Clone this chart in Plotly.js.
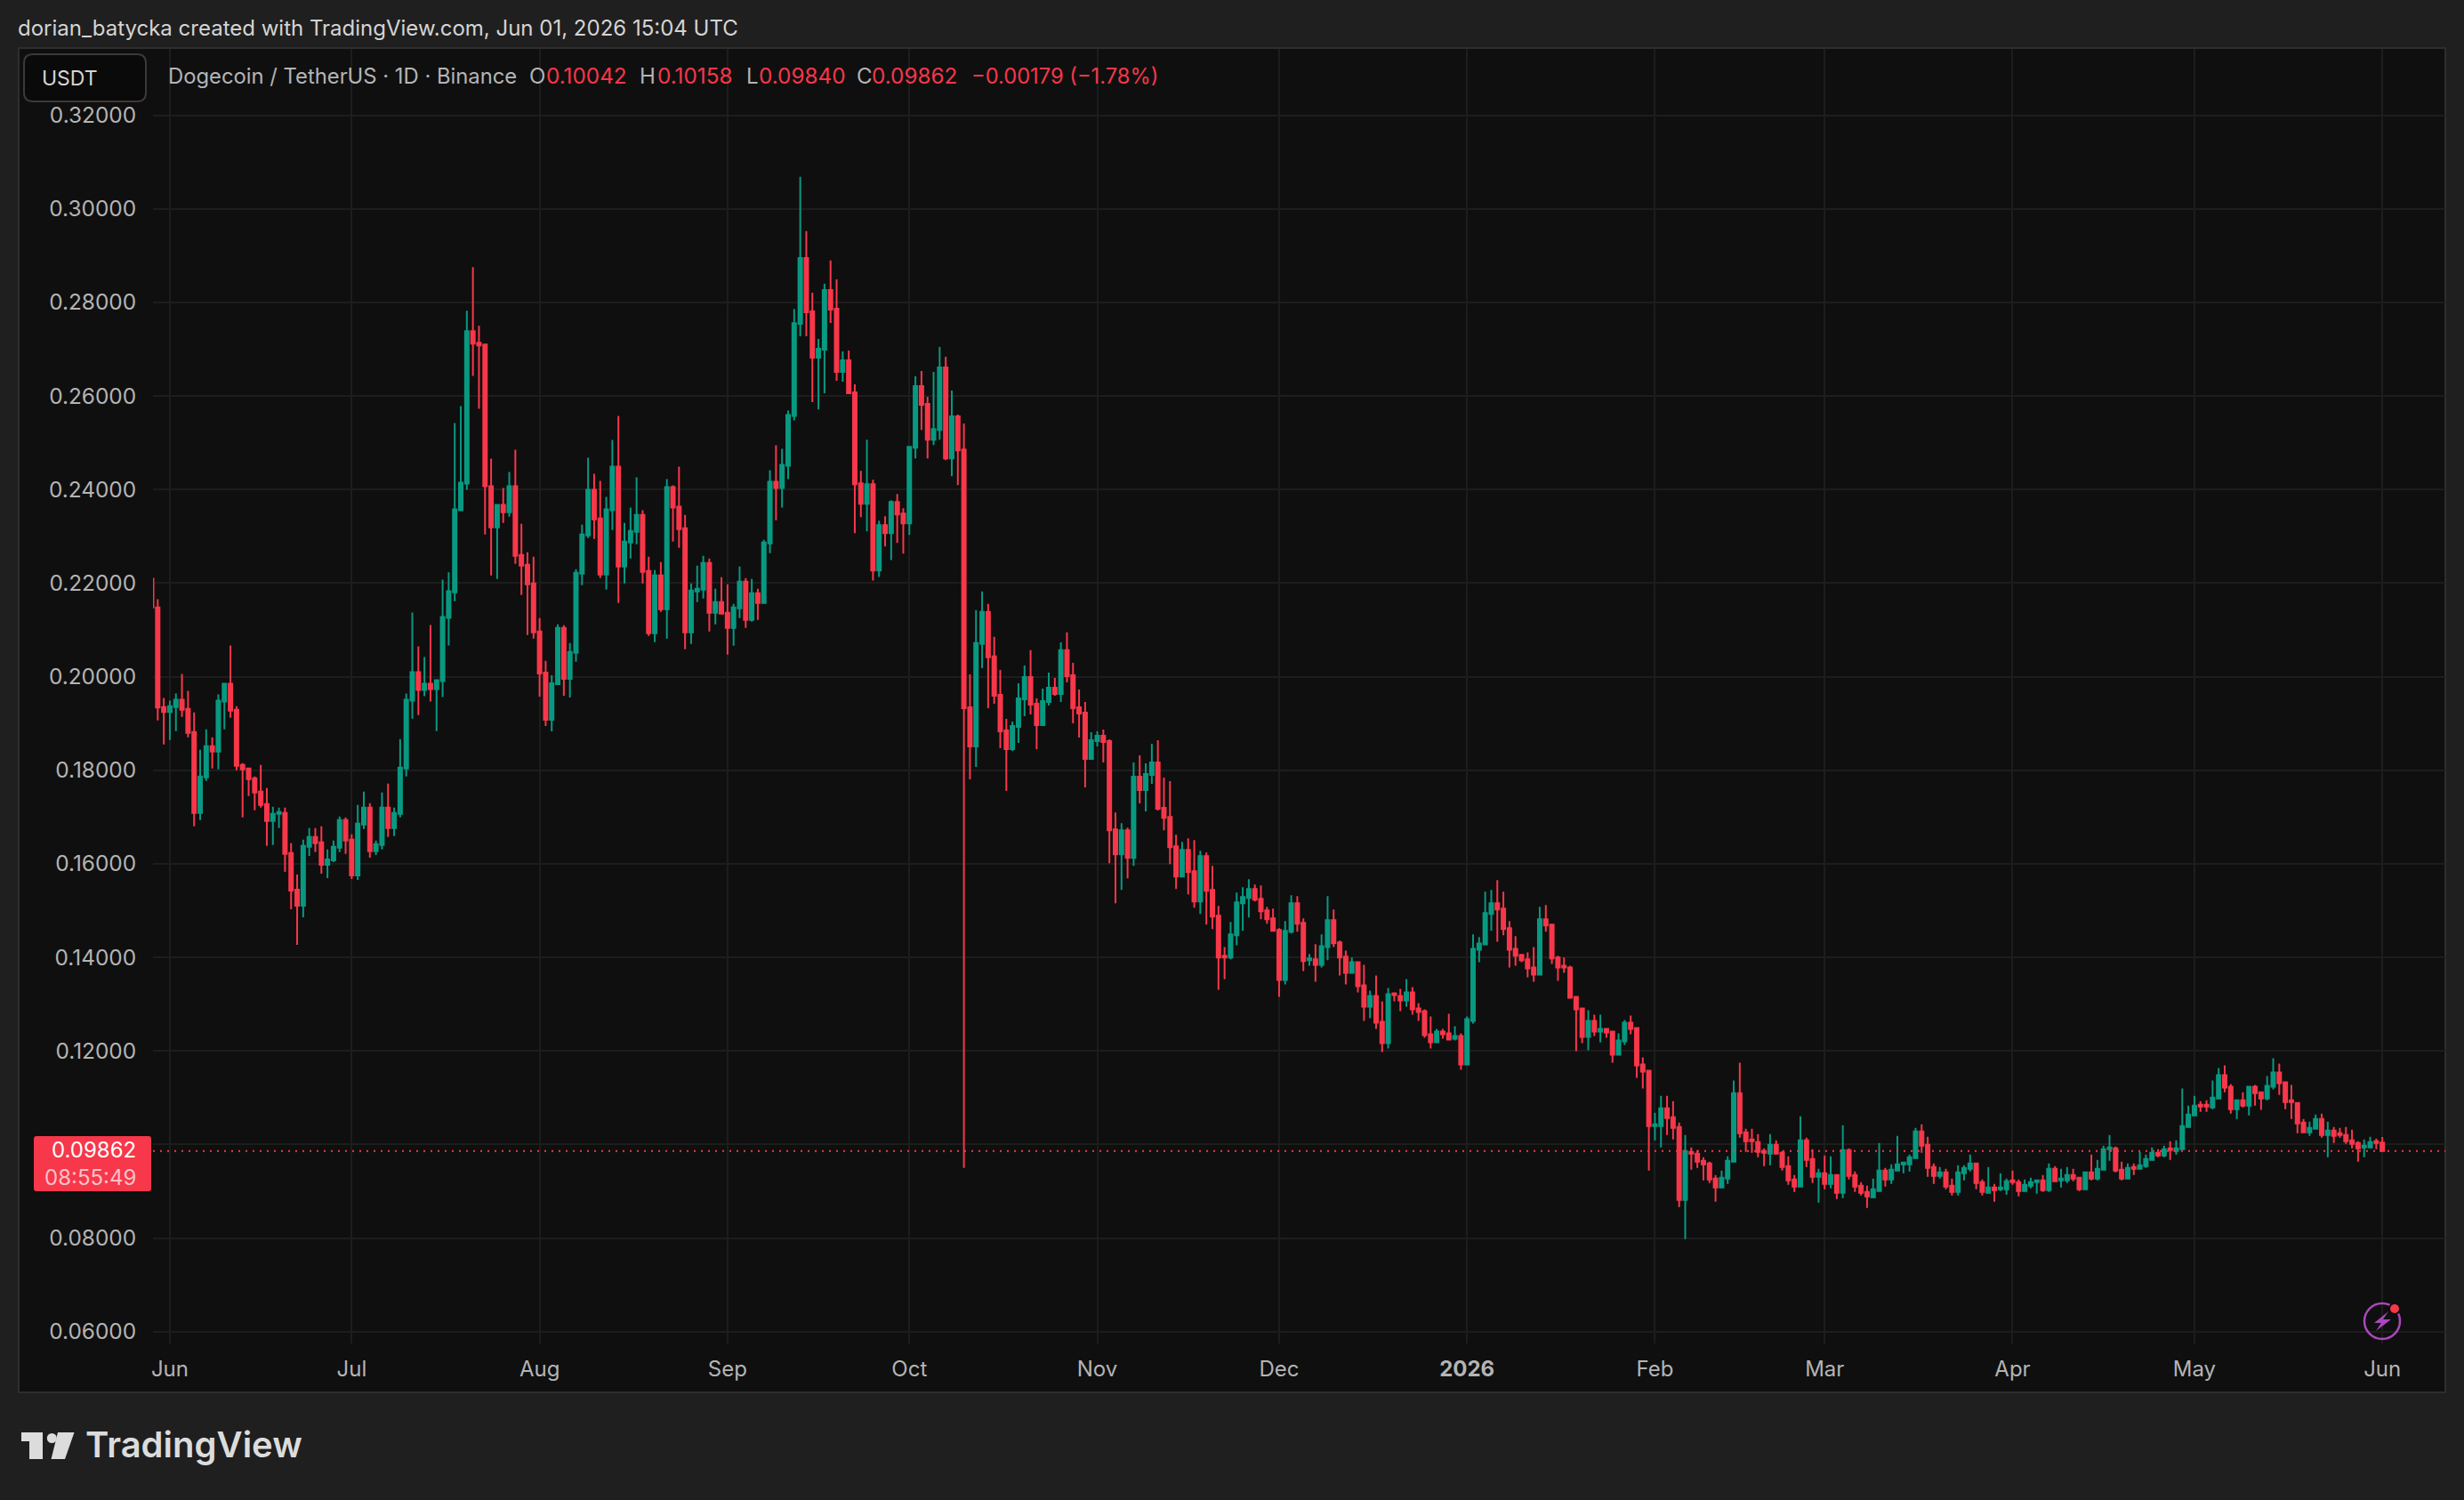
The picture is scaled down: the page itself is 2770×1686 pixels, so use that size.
<!DOCTYPE html>
<html>
<head>
<meta charset="utf-8">
<script src="https://cdn.plot.ly/plotly-3.0.1.min.js"></script>
<style>html,body{margin:0;padding:0;background:#1f1f1f;}</style>
</head>
<body>
<div id="chart" style="width:2770px;height:1686px;"></div>
<script>
const firstDate = "2025-05-29";
const opens = [
.22095,.21479,.19352,
.19244,.19352,.19505,.19314,.18819,.17086,.17848,.18514,.18400,.19467,.19848,.19295,.18114,.18038,.17829,.17543,.17276,.16914,.17067,.17086,.16229,.15448,.15105,.16362,.16571,.16457,.15981,.16076,.16343,.16933,
.16514,.15752,.16838,.17200,.16267,.16400,.17200,.16762,.17067,.18038,.19486,.20095,.19714,.19848,.19733,.19905,.21257,.21803,.23556,.24127,.27384,.27136,.27098,.24070,.23194,.23670,.23517,.24070,.22603,.22394,.21994,
.20965,.20089,.19079,.19840,.21041,.19956,.20508,.22203,.23022,.23994,.23384,.22184,.23556,.24489,.22356,.22870,.23098,.23460,.22260,.20927,.22165,.21441,.24051,.23632,.23175,.20946,.21822,.21860,.22432,.21365,.21594,
.21365,.21041,.21460,.22032,.21213,.21784,.21575,.22851,.24165,.24032,.24508,.25574,.27543,.28952,.27810,.26819,.26990,.28267,.27867,.26514,.26762,.26076,.24133,.23695,.24114,.22267,.23238,.23067,.23733,.23486,
.23276,.24895,.26210,.25829,.25067,.25276,.26610,.24667,.25562,.24857,.19346,.18508,.20698,.21384,.20432,.19613,.18851,.18451,.18927,.19517,.19994,.19422,.18965,.19460,.19765,.19632,.20565,.20032,.19346,.19232,.18241,
.18622,.18737,.18622,.16737,.16203,.16718,.16127,.17860,.17575,.17899,.18165,.17194,.17003,.16375,.15727,.16299,.15841,.15194,.16165,.15441,.14889,.14032,.13994,.14470,.15156,.15270,.15460,.15251,.15003,.14832,
.14584,.13518,.14546,.15156,.14737,.13937,.13956,.13841,.14222,.14794,.14318,.14013,.13670,.13898,.13403,.12946,.13175,.12622,.12165,.13232,.13175,.13079,.13251,.12908,.12851,.12356,.12184,.12413,.12375,.12260,.12318,
.11708,.12641,.14165,.14279,.14927,.15156,.15041,.14622,.14184,.14051,.13956,.13784,.13632,.14813,.14698,.13994,.13822,.13784,.13156,.12908,.12298,.12641,.12413,.12470,.12413,.11917,.12203,.12603,.12489,.11708,.11575,
.10394,.10394,.10775,.10584,.10375,.08813,.09841,.09803,.09651,.09594,.09270,.09079,.09270,.09632,.11098,.10260,.10108,.10051,.09860,.09803,.09994,.09822,.09537,.09251,.09098,.10089,.09689,.09308,
.09384,.09156,.09346,.08965,.09879,.09346,.09117,.08984,.08870,.09003,.09441,.09251,.09441,.09575,.09575,.09708,.10279,.09994,.09517,.09327,.09403,.09117,.08984,.09384,.09479,.09594,.09194,.08965,.09079,.09041,.09041,
.09232,.09194,.09003,.09117,.09194,.09232,.09022,.09479,.09232,.09232,.09346,.09289,.09041,.09403,.09270,.09460,.09898,.09917,.09460,.09270,.09517,.09479,.09537,.09670,.09822,.09765,.09917,.09860,.09898,.10375,
.10622,.10851,.10851,.10794,.10984,.11479,.11232,.10756,.10946,.10832,.11232,.11117,.10984,.11232,.11536,.11327,.10946,.10889,.10470,.10260,.10337,.10546,.10203,.10298,.10241,.10203,.10089,.10032,.09937,.09937,.10070,
.10042];
const highs = [
.22095,.21657,.19543,
.19486,.19638,.20057,.19695,.19238,.18438,.18876,.18705,.19619,.19867,.20667,.19371,.18152,.18038,.17867,.18114,.17619,.17219,.17200,.17200,.16438,.15771,.16514,.16762,.16762,.16800,.16305,.16495,.17010,.16991,
.16629,.17257,.17543,.17295,.16495,.17524,.17714,.17200,.18667,.19638,.21371,.20648,.20419,.21105,.19924,.22076,.22229,.25422,.25784,.27822,.28755,.27498,.27098,.24660,.23689,.24032,.24375,.24851,.23270,.22660,.22565,
.21251,.20337,.20032,.21117,.21098,.20717,.22298,.23251,.24679,.24336,.24184,.23841,.25060,.25574,.23289,.23613,.24260,.23556,.22565,.22279,.22451,.24222,.24089,.24489,.23460,.21994,.22375,.22584,.22527,.21879,.22127,
.21975,.21556,.22356,.22108,.22089,.21879,.22927,.24413,.24946,.24870,.25689,.27860,.30686,.29524,.28210,.27219,.28400,.28895,.28495,.26952,.26971,.26248,.24400,.25067,.24210,.23333,.23429,.23771,.23905,.23600,
.24933,.26419,.26533,.25981,.26514,.27048,.26838,.26114,.25600,.25410,.20051,.21422,.21822,.21556,.20851,.20146,.19098,.19041,.19860,.20241,.20565,.19537,.19746,.20089,.19975,.20736,.20946,.20298,.19727,.19460,.18813,
.18832,.18870,.18660,.17098,.16870,.16775,.18165,.18318,.18146,.18565,.18641,.17841,.17765,.16622,.16470,.16546,.16508,.16279,.16241,.15956,.15099,.14222,.14756,.15384,.15499,.15670,.15556,.15537,.15079,.15041,
.14622,.14775,.15327,.15308,.14832,.14070,.14280,.14489,.15308,.15022,.14356,.14146,.13994,.13917,.13841,.13289,.13613,.13060,.13346,.13251,.13327,.13537,.13365,.13022,.12889,.12737,.12470,.12470,.12794,.12527,.12375,
.12737,.14489,.14432,.15403,.15441,.15651,.15403,.14775,.14451,.14051,.14108,.14222,.15079,.15117,.14717,.14032,.13994,.13822,.13156,.12927,.12870,.12775,.12775,.12489,.12413,.12375,.12660,.12755,.12508,.11860,.11575,
.10679,.11041,.11041,.10927,.10470,.10203,.09937,.09879,.09727,.09632,.09346,.09441,.09746,.11365,.11746,.10337,.10337,.10222,.09917,.10222,.10089,.09860,.09746,.09346,.10603,.10146,.09898,.09479,
.09765,.09746,.09365,.10413,.09917,.09422,.09194,.09117,.09270,.10032,.09498,.09575,.10184,.09632,.09784,.10356,.10432,.10165,.09594,.09517,.09479,.09270,.09556,.09556,.09784,.09613,.09251,.09517,.09156,.09384,.09270,
.09441,.09251,.09251,.09289,.09232,.09346,.09594,.09537,.09479,.09517,.09479,.09308,.09422,.09784,.09670,.09975,.10203,.09956,.09632,.09594,.09594,.09841,.09784,.09937,.09898,.09975,.10070,.10089,.11194,.10832,
.11041,.10927,.10946,.11365,.11632,.11689,.11289,.10946,.11117,.11251,.11270,.11136,.11460,.11841,.11727,.11327,.11270,.10889,.10546,.10489,.10641,.10660,.10489,.10375,.10356,.10375,.10318,.10070,.10108,.10165,.10127,
.10158];
const lows = [
.21479,.19067,.18552,
.18648,.18838,.19143,.18705,.16800,.16933,.17772,.18038,.18019,.18876,.19124,.18000,.16991,.17448,.17143,.17200,.16381,.16400,.16762,.15829,.15029,.14267,.14857,.16171,.16248,.15790,.15695,.16038,.16248,.16210,
.15676,.15657,.16743,.16133,.16190,.16305,.16571,.16590,.16991,.17867,.19105,.19181,.19581,.19467,.18838,.19562,.20667,.21613,.23556,.23994,.26432,.25727,.23041,.22165,.22089,.23289,.23422,.22413,.21746,.20889,.20813,
.19574,.18946,.18832,.19820,.19593,.19555,.20318,.21956,.22965,.22946,.22108,.21860,.23136,.21575,.21994,.22527,.22832,.21994,.20870,.20737,.21384,.20813,.22889,.22756,.20584,.20698,.21594,.21670,.20965,.21117,.21327,
.20470,.20660,.21251,.21041,.21175,.21213,.21556,.22641,.23346,.23613,.24222,.25479,.27276,.27276,.25867,.25714,.26057,.27562,.26324,.26305,.26038,.23067,.23410,.23105,.22057,.22133,.22781,.22495,.22857,.22629,
.23029,.24667,.25276,.24667,.24952,.25067,.24629,.24286,.24095,.09500,.17803,.18070,.20184,.19327,.19422,.18470,.17556,.18413,.18584,.19156,.19194,.18451,.18946,.19384,.19594,.19460,.19879,.19003,.18698,.17632,.18222,
.18508,.18165,.16013,.15156,.15441,.15689,.15956,.17289,.17118,.17708,.17137,.16718,.15994,.15460,.15708,.15346,.15060,.14927,.14699,.14603,.13308,.13537,.13956,.14260,.14565,.14851,.15194,.14813,.14718,.14565,
.13156,.13422,.14508,.14546,.13708,.13822,.13480,.13784,.13937,.14222,.13613,.13422,.13670,.13251,.12641,.12698,.12470,.11975,.12051,.13060,.12851,.12946,.12775,.12641,.12279,.12051,.12184,.12260,.12222,.12222,.11594,
.11708,.12584,.13898,.14260,.14565,.14336,.14470,.13784,.13822,.13898,.13575,.13479,.13613,.14546,.13860,.13498,.13670,.13117,.11994,.12165,.12013,.12318,.12184,.12279,.11746,.11917,.12127,.12355,.11422,.11194,.09441,
.10089,.09937,.10203,.10108,.08660,.07975,.09460,.09498,.09232,.09175,.08775,.09060,.09156,.09613,.10146,.09841,.09822,.09727,.09537,.09556,.09803,.09441,.09137,.08984,.09079,.09517,.09175,.08756,
.09041,.09060,.08832,.08851,.09251,.08984,.08908,.08641,.08870,.09003,.09098,.09156,.09441,.09384,.09422,.09689,.09822,.09308,.09156,.09270,.09041,.08908,.08908,.09232,.09422,.09041,.08908,.08946,.08775,.09003,.08927,
.09137,.08889,.08984,.09060,.08946,.08984,.08984,.09194,.09079,.09175,.09213,.09003,.09041,.09232,.09232,.09441,.09651,.09403,.09232,.09270,.09346,.09479,.09498,.09670,.09727,.09727,.09670,.09784,.09898,.10375,
.10622,.10698,.10698,.10756,.10984,.11117,.10660,.10546,.10794,.10622,.10832,.10737,.10946,.11175,.11060,.10756,.10546,.10241,.10241,.10184,.10337,.10146,.09727,.10032,.10146,.10013,.09917,.09632,.09727,.09937,.09898,
.09840];
const closes = [
.21479,.19340,.19244,
.19371,.19505,.19295,.18800,.17086,.17867,.18514,.18400,.19486,.19848,.19276,.18095,.18019,.17810,.17524,.17257,.16914,.17067,.17105,.16210,.15429,.15105,.16381,.16571,.16438,.15981,.16095,.16362,.16933,.16495,
.15752,.16857,.17200,.16267,.16419,.17200,.16762,.17086,.18057,.19505,.20095,.19714,.19848,.19733,.19924,.21276,.21829,.23575,.24146,.27384,.27117,.27079,.24070,.23194,.23670,.23517,.24070,.22584,.22375,.21975,.20946,
.20070,.19079,.19859,.21041,.19956,.20527,.22222,.23041,.23994,.23365,.22184,.23575,.24489,.22356,.22889,.23117,.23460,.22241,.20927,.22165,.21441,.24051,.23613,.23156,.20946,.21841,.21879,.22432,.21365,.21594,.21346,
.21041,.21479,.22032,.21213,.21784,.21575,.22870,.24165,.24032,.24527,.25594,.27555,.28952,.27790,.26819,.27010,.28267,.27848,.26514,.26762,.26057,.24114,.23695,.24114,.22267,.23238,.23067,.23733,.23467,.23276,
.24914,.26210,.25810,.25067,.25295,.26610,.24667,.25562,.24838,.19327,.18508,.20717,.21384,.20413,.19594,.18832,.18451,.18946,.19537,.19994,.19403,.18965,.19479,.19765,.19632,.20565,.20013,.19327,.19213,.18241,.18641,
.18737,.18603,.16718,.16203,.16718,.16127,.17860,.17575,.17918,.18165,.17175,.16984,.16356,.15727,.16299,.15822,.15194,.16165,.15422,.14870,.13994,.13994,.14489,.15175,.15289,.15460,.15232,.14984,.14813,.14565,
.13518,.14565,.15156,.14718,.13918,.13975,.13841,.14241,.14794,.14299,.13994,.13670,.13898,.13384,.12946,.13175,.12603,.12165,.13213,.13194,.13079,.13251,.12889,.12832,.12337,.12184,.12413,.12356,.12241,.12318,.11708,
.12679,.14184,.14298,.14946,.15156,.15022,.14603,.14165,.14032,.13937,.13765,.13632,.14813,.14679,.13975,.13784,.13784,.13137,.12889,.12298,.12641,.12413,.12470,.12394,.11917,.12222,.12603,.12470,.11689,.11555,.10394,
.10432,.10775,.10565,.10356,.08813,.09860,.09803,.09632,.09575,.09251,.09079,.09289,.09651,.11098,.10241,.10070,.10070,.09841,.09822,.09994,.09803,.09517,.09232,.09098,.10089,.09670,.09308,.09384,
.09156,.09346,.08965,.09879,.09327,.09098,.08965,.08889,.09041,.09441,.09251,.09460,.09575,.09613,.09727,.10279,.09975,.09498,.09327,.09403,.09098,.08984,.09403,.09498,.09594,.09175,.08984,.09079,.09022,.09079,.09213,
.09194,.09003,.09137,.09194,.09232,.09022,.09479,.09213,.09270,.09346,.09270,.09041,.09403,.09270,.09479,.09898,.09937,.09441,.09270,.09498,.09479,.09556,.09689,.09822,.09765,.09898,.09879,.09917,.10394,.10641,
.10832,.10813,.10813,.11003,.11479,.11213,.10756,.10946,.10832,.11232,.11098,.10984,.11251,.11536,.11308,.10908,.10908,.10451,.10260,.10356,.10546,.10203,.10298,.10184,.10203,.10070,.10013,.09917,.09975,.10051,.10032,
.09862];
const monthTicks = ["2025-06-01","2025-07-01","2025-08-01","2025-09-01","2025-10-01","2025-11-01","2025-12-01","2026-01-01","2026-02-01","2026-03-01","2026-04-01","2026-05-01","2026-06-01"];
const monthLabels = ["Jun","Jul","Aug","Sep","Oct","Nov","Dec","<b>2026</b>","Feb","Mar","Apr","May","Jun"];
const priceTicks = [0.06,0.08,0.10,0.12,0.14,0.16,0.18,0.20,0.22,0.24,0.26,0.28,0.30,0.32];
const priceLabels = ["0.06000","0.08000","","0.12000","0.14000","0.16000","0.18000","0.20000","0.22000","0.24000","0.26000","0.28000","0.30000","0.32000"];
const lastPrice = 0.09862;

const dates = opens.map((_, i) => {
  const d = new Date(firstDate + "T00:00:00Z");
  d.setUTCDate(d.getUTCDate() + i);
  return d.toISOString().slice(0, 10);
});

const W = 2770, H = 1686, L = 172, R = 2749, T = 55, B = 1510;
const px = v => (v - L) / (R - L);
const py = v => 1 - (v - T) / (B - T);
const UP = "#089981", DOWN = "#f7374a", FONT = "Inter, 'Noto Sans', sans-serif";
const GREY = "#b4b4b4";

const ann = (text, x, y, size, color, extra) => Object.assign({
  text, x: px(x), y: py(y), xref: "paper", yref: "paper", xanchor: "left", yanchor: "middle",
  showarrow: false, align: "left", borderpad: 0, font: {family: FONT, size, color}
}, extra || {});

const poly = (pts, fill) => ({
  type: "path", xref: "paper", yref: "paper", layer: "above",
  path: "M" + pts.map(p => px(p[0]) + "," + py(p[1])).join(" L") + " Z",
  fillcolor: fill, line: {width: 0}
});
const circ = (cx, cy, r, fill, stroke, sw) => ({
  type: "circle", xref: "paper", yref: "paper", layer: "above",
  x0: px(cx - r), x1: px(cx + r), y0: py(cy + r), y1: py(cy - r),
  fillcolor: fill, line: {color: stroke || "rgba(0,0,0,0)", width: sw || 0}
});
const round = (x0, y0, x1, y1, r, fill, stroke) => {
  const P = (a, b) => px(a) + "," + py(b);
  return {type: "path", xref: "paper", yref: "paper", layer: "above",
    path: `M${P(x0 + r, y0)} L${P(x1 - r, y0)} Q${P(x1, y0)} ${P(x1, y0 + r)} L${P(x1, y1 - r)} Q${P(x1, y1)} ${P(x1 - r, y1)} L${P(x0 + r, y1)} Q${P(x0, y1)} ${P(x0, y1 - r)} L${P(x0, y0 + r)} Q${P(x0, y0)} ${P(x0 + r, y0)} Z`,
    fillcolor: fill, line: {color: stroke || "rgba(0,0,0,0)", width: stroke ? 2 : 0}};
};

const shapes = [
  {type: "rect", xref: "paper", yref: "paper", layer: "below", x0: px(21), x1: px(2749), y0: py(1565), y1: py(54),
   fillcolor: "#0f0f0f", line: {color: "#2e2e2e", width: 2}},
  {type: "line", xref: "paper", yref: "y", layer: "above", x0: 0, x1: 1, y0: lastPrice, y1: lastPrice,
   line: {color: DOWN, width: 2, dash: "2px,6px"}},
  round(27, 61, 164, 114, 10, "#0a0a0a", "#3b3a36"),
  round(38, 1277, 170, 1339, 3, DOWN),
  poly([[24,1610],[48,1610],[48,1640],[33,1640],[33,1620],[24,1620]], "#dcdcdc"),
  circ(58.3, 1616.5, 5.5, "#dcdcdc"),
  poly([[65,1610],[83.5,1610],[73,1640],[57.5,1640]], "#dcdcdc"),
  circ(2678, 1485, 20, "rgba(0,0,0,0)", "#ab47bc", 2.5),
  poly([[2685,1474],[2669,1487],[2677,1487],[2671,1496],[2688,1483],[2679,1483]], "#ab47bc"),
  circ(2692, 1471, 7, "#0f0f0f"),
  circ(2692, 1471, 5, DOWN)
];

const annotations = [
  ann("dorian_batycka created with TradingView.com, Jun 01, 2026 15:04 UTC", 19, 31, 24, "#d4d4d4"),
  ann("USDT", 46, 88, 23, "#d4d4d4"),
  ann("Dogecoin / TetherUS · 1D · Binance", 188, 85, 23.8, GREY),
  ann("O", 594, 85, 24, GREY), ann("0.10042", 613, 85, 24.3, DOWN),
  ann("H", 718, 85, 24, GREY), ann("0.10158", 738, 85, 24.3, DOWN),
  ann("L", 838, 85, 24, GREY), ann("0.09840", 852, 85, 24.3, DOWN),
  ann("C", 962, 85, 24, GREY), ann("0.09862", 979, 85, 24.3, DOWN),
  ann("−0.00179 (−1.78%)", 1091, 85, 23.7, DOWN),
  ann("0.09862", 154, 1292, 24, "#ffffff", {xanchor: "right"}),
  ann("08:55:49", 154, 1323, 24, "#fbc1c7", {xanchor: "right"}),
  ann("TradingView", 95, 1623, 40, "#dcdcdc", {font: {family: FONT, size: 40, color: "#dcdcdc", weight: 600}})
];

const trace = {
  type: "candlestick", x: dates, open: opens, high: highs, low: lows, close: closes,
  increasing: {line: {color: UP, width: 2}, fillcolor: UP},
  decreasing: {line: {color: DOWN, width: 2}, fillcolor: DOWN},
  whiskerwidth: 0, hoverinfo: "skip", showlegend: false
};

const layout = {
  width: W, height: H, autosize: false, showlegend: false,
  paper_bgcolor: "#1f1f1f", plot_bgcolor: "#0f0f0f",
  margin: {l: L, r: W - R, t: T, b: H - B, pad: 0},
  boxgap: 0.413, boxgroupgap: 0,
  font: {family: FONT, color: GREY},
  xaxis: {
    type: "date", range: ["2025-05-29T05:18:00", "2026-06-11T09:30:00"],
    rangeslider: {visible: false}, tickmode: "array", tickvals: monthTicks, ticktext: monthLabels,
    showgrid: true, gridcolor: "#1d1d1d", gridwidth: 2, zeroline: false, showline: false,
    ticks: "outside", ticklen: 7, tickcolor: "rgba(0,0,0,0)", tickangle: 0,
    tickfont: {family: FONT, size: 24, color: GREY}
  },
  yaxis: {
    type: "linear", range: [0.05747, 0.33419],
    tickmode: "array", tickvals: priceTicks, ticktext: priceLabels,
    showgrid: true, gridcolor: "#1d1d1d", gridwidth: 2, zeroline: false, showline: false,
    ticks: "outside", ticklen: 13, tickcolor: "rgba(0,0,0,0)",
    tickfont: {family: FONT, size: 24.4, color: GREY}
  },
  shapes, annotations
};

Plotly.newPlot("chart", [trace], layout, {displayModeBar: false, staticPlot: true});
</script>
</body>
</html>
